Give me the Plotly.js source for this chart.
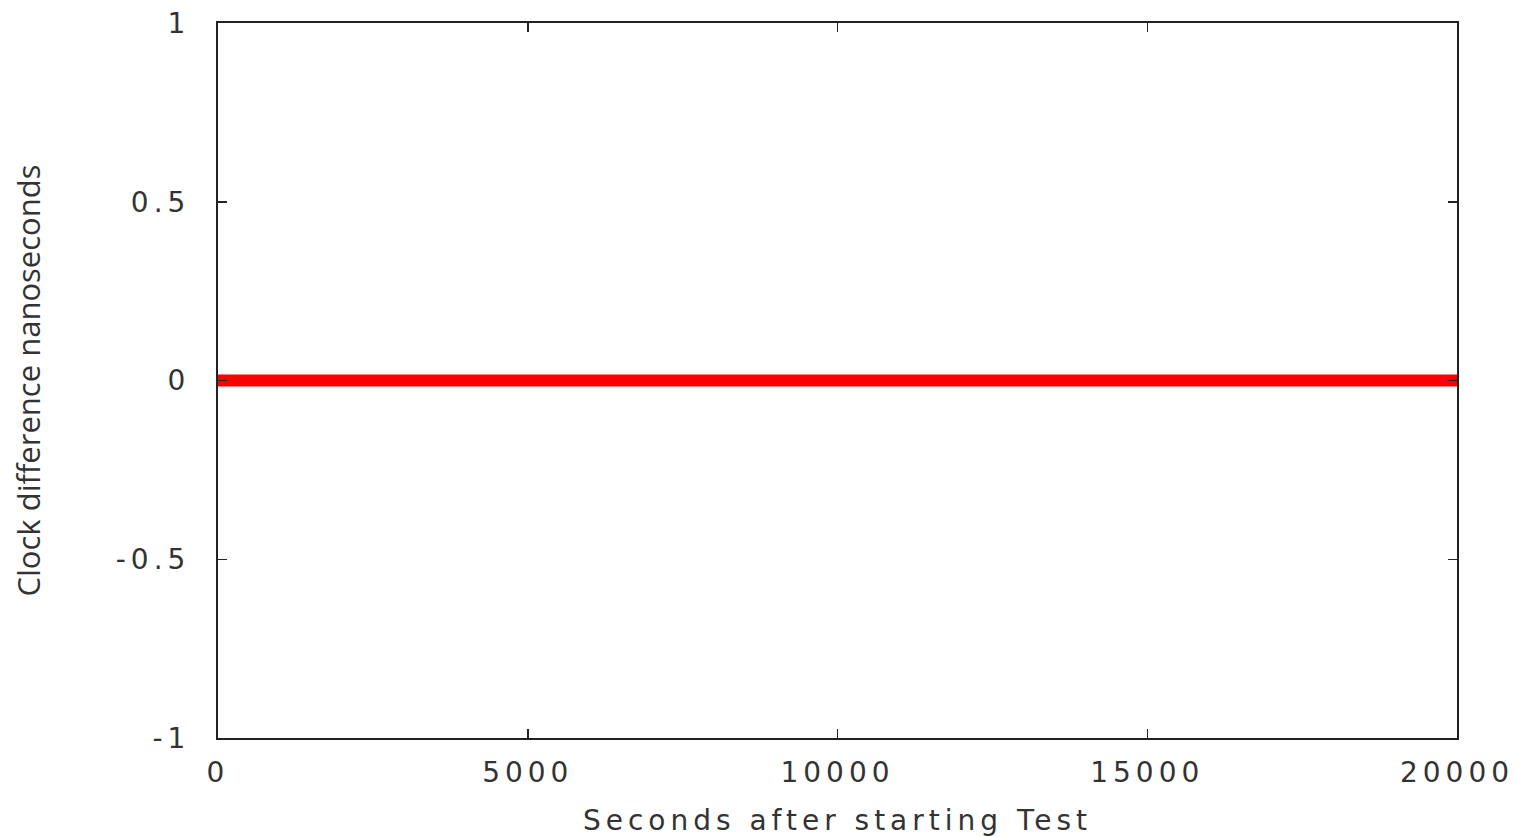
<!DOCTYPE html>
<html>
<head>
<meta charset="utf-8">
<script src="https://cdn.plot.ly/plotly-3.0.1.min.js"></script>
<style>
html,body{margin:0;padding:0;background:#fff;}
#chart{width:1525px;height:837px;}
#chart .xtick text, #chart .ytick text {letter-spacing: 5px;}
#chart .g-xtitle text {letter-spacing: 5px;}
</style>
</head>
<body>
<div id="chart"></div>
<script>
const seconds = [0, 1000, 2000, 3000, 4000, 5000, 6000, 7000, 8000, 9000, 10000, 11000, 12000, 13000, 14000, 15000, 16000, 17000, 18000, 19000, 20000];
const clockDiff = [0, 0, 0, 0, 0, 0, 0, 0, 0, 0, 0, 0, 0, 0, 0, 0, 0, 0, 0, 0, 0];
const xTicks = [0, 5000, 10000, 15000, 20000];
const xTickLabels = ["0", "5000", "10000", "15000", "20000"];
const yTicks = [-1, -0.5, 0, 0.5, 1];
const yTickLabels = ["-1", "-0.5", "0", "0.5", "1"];

const trace = {
  x: seconds, y: clockDiff, type: 'scatter', mode: 'lines',
  line: {color: '#ff0000', width: 12}, showlegend: false, cliponaxis: false
};
const tickFont = {family: 'DejaVu Sans', size: 28, color: '#333'};
const layout = {
  width: 1525, height: 837,
  margin: {l: 218, r: 68, t: 23, b: 99},
  paper_bgcolor: '#fff', plot_bgcolor: '#fff',
  xaxis: {
    range: [0, 20000], tickvals: xTicks, ticktext: xTickLabels,
    ticks: 'inside', ticklen: 9, tickwidth: 1.5, tickcolor: '#222',
    mirror: 'ticks', showline: true, linecolor: '#222', linewidth: 2,
    showgrid: false, zeroline: false, tickfont: tickFont, ticklabelstandoff: 8,
    title: {text: 'Seconds after starting Test', font: {family: 'DejaVu Sans', size: 28, color: '#333'}, standoff: 23}
  },
  yaxis: {
    range: [-1, 1], tickvals: yTicks, ticktext: yTickLabels,
    ticks: 'inside', ticklen: 9, tickwidth: 1.5, tickcolor: '#222',
    mirror: 'ticks', showline: true, linecolor: '#222', linewidth: 2,
    showgrid: false, zeroline: false, tickfont: tickFont, ticklabelstandoff: 20,
    title: {text: 'Clock difference nanoseconds', font: {family: 'Open Sans', size: 31, color: '#333'}, standoff: 86}
  }
};
Plotly.newPlot('chart', [trace], layout, {displayModeBar: false, staticPlot: true});
</script>
</body>
</html>
